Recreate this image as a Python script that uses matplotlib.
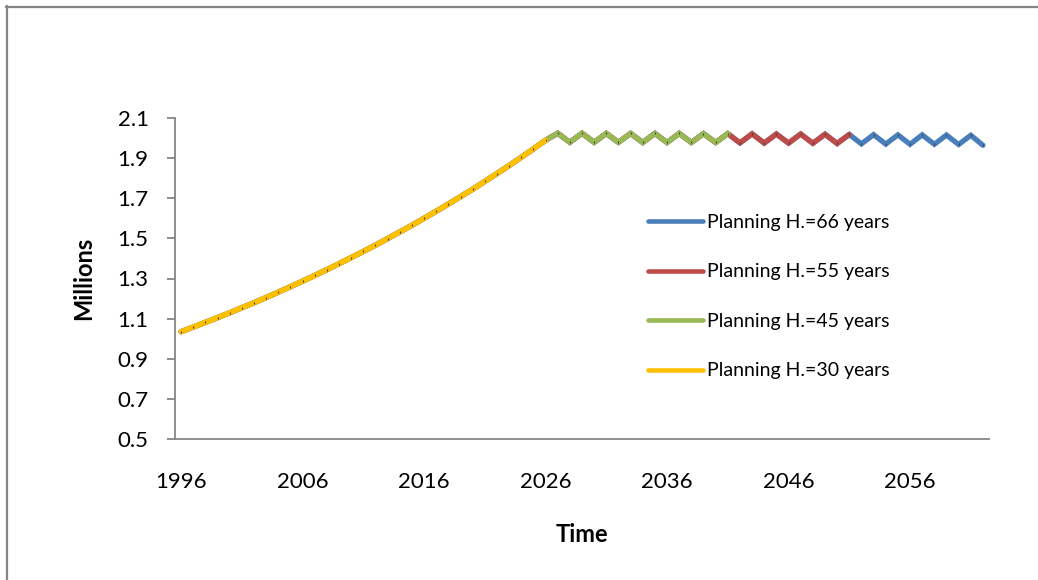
import matplotlib
matplotlib.use("Agg")
import matplotlib.pyplot as plt
from matplotlib.lines import Line2D

plt.rcParams["font.family"] = ["Lato", "DejaVu Sans"]

# years 1996..2062 (one point per year)
start_year = 1996
# growth phase, 1996..2026 (millions)
growth_values = [1.035, 1.058, 1.081, 1.105, 1.129, 1.154, 1.179, 1.205, 1.232, 1.259,
                 1.287, 1.315, 1.344, 1.374, 1.404, 1.435, 1.466, 1.499, 1.532, 1.565,
                 1.600, 1.635, 1.671, 1.708, 1.745, 1.784, 1.823, 1.863, 1.904, 1.946,
                 1.989]
# oscillating plateau, 2027..2062
plateau_values = [2.024, 1.979, 2.024, 1.979, 2.023, 1.979, 2.023, 1.978, 2.023, 1.978,
                  2.023, 1.978, 2.022, 1.978, 2.022, 1.976, 2.021, 1.975, 2.020, 1.975,
                  2.020, 1.974, 2.019, 1.973, 2.018, 1.971, 2.017, 1.970, 2.016, 1.969,
                  2.016, 1.969, 2.015, 1.968, 2.014, 1.964]
horizons = [66, 55, 45, 30]
labels = ["Planning H.=66 years", "Planning H.=55 years",
          "Planning H.=45 years", "Planning H.=30 years"]
colors = ["#4A7EBB", "#BE4B48", "#98B954", "#FFC000"]
x_ticks = [1996, 2006, 2016, 2026, 2036, 2046, 2056]
y_ticks = [0.5, 0.7, 0.9, 1.1, 1.3, 1.5, 1.7, 1.9, 2.1]

values = growth_values + plateau_values
years = [start_year + i for i in range(len(values))]
AX_C = "#868686"

fig = plt.figure(figsize=(10.38, 5.8), dpi=100, facecolor="white")
ax = fig.add_axes([175 / 1038, 1 - 439 / 580, 814 / 1038, 321 / 580])

for i, (h, lab, col) in enumerate(zip(horizons, labels, colors)):
    ax.plot(years[:h + 1], values[:h + 1], color=col, linewidth=3.8,
            solid_capstyle="round", solid_joinstyle="miter", label=lab, zorder=2 + i)
    ax.plot(years[:h + 1], values[:h + 1], linestyle="none", marker="|",
            markersize=1.6, markeredgewidth=0.8, color="#404040", zorder=2 + i)

ax.set_xlim(1995.5, 2062.5)
ax.set_ylim(0.5, 2.1)
ax.set_xticks(x_ticks)
ax.set_yticks(y_ticks)
ax.set_yticklabels([f"{v:.1f}" for v in y_ticks])
for s in ("top", "right"):
    ax.spines[s].set_visible(False)
for s in ("left", "bottom"):
    ax.spines[s].set_color(AX_C)
    ax.spines[s].set_linewidth(1.3)
ax.tick_params(axis="y", length=6, width=1.3, color=AX_C, pad=13, labelsize=16)
ax.tick_params(axis="x", length=0, pad=24, labelsize=16)

ax.set_xlabel("Time", fontsize=17, fontweight="bold", labelpad=22)
ax.set_ylabel("Millions", fontsize=17, fontweight="bold", labelpad=16)

# legend handles drawn with thicker lines, markers excluded
handles = [Line2D([0], [0], color=c, linewidth=3.3, solid_capstyle="round") for c in colors]
ax.legend(handles, labels, loc="upper left", bbox_to_anchor=(648 / 1038, 1 - 214 / 580),
          bbox_transform=fig.transFigure, frameon=False, fontsize=14,
          handlelength=2.85, handletextpad=0.2, labelspacing=1.67,
          borderpad=0, borderaxespad=0)

# chart area frame (only left and top edges show in the crop)
fig.add_artist(Line2D([6.5 / 1038, 6.5 / 1038], [0, 1 - 6 / 580], color=AX_C, linewidth=1.6))
fig.add_artist(Line2D([6 / 1038, 1], [1 - 6.5 / 580, 1 - 6.5 / 580], color=AX_C, linewidth=1.6))

fig.savefig("out.png", dpi=100, facecolor="white")
